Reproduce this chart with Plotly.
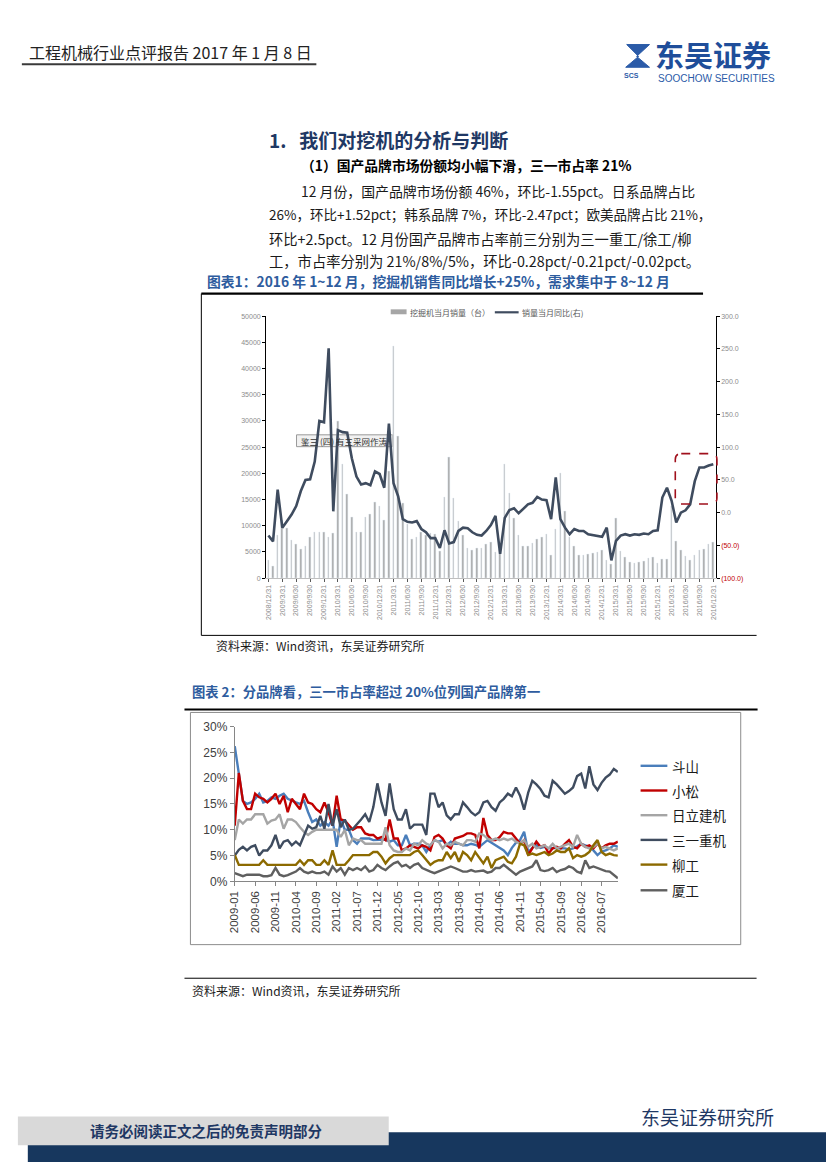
import plotly.graph_objects as go

W, H = 827, 1169
def X(p): return p / W
def Y(p): return 1 - p / H

# ---------------- Chart 1 data ----------------
tick_idx1 = list(range(0, 97, 3))
tick_text1 = ["2008/12/31", "2009/3/31", "2009/6/30", "2009/9/30", "2009/12/31",
              "2010/3/31", "2010/6/30", "2010/9/30", "2010/12/31",
              "2011/3/31", "2011/6/30", "2011/9/30", "2011/12/31",
              "2012/3/31", "2012/6/30", "2012/9/30", "2012/12/31",
              "2013/3/31", "2013/6/30", "2013/9/30", "2013/12/31",
              "2014/3/31", "2014/6/30", "2014/9/30", "2014/12/31",
              "2015/3/31", "2015/6/30", "2015/9/30", "2015/12/31",
              "2016/3/31", "2016/6/30", "2016/9/30", "2016/12/31"]
sales = [3500, 2200, 8200, 11000, 9600, 7300, 6500, 5600, 6100, 7800, 8700, 8800, 8800,
         7800, 8600, 30000, 21800, 16100, 11600, 8800, 8800, 11600, 12200, 14400, 13800,
         11000, 20400, 44300, 27000, 14200, 10200, 7500, 7800, 8700, 8200, 8600, 8400,
         5200, 15500, 23100, 15300, 10800, 8100, 5700, 5300, 5700, 5700, 6400, 6900,
         4900, 5600, 21800, 16200, 11500, 8100, 6100, 6100, 6700, 7400, 7800, 8400,
         4400, 9300, 20000, 12700, 7800, 6100, 4400, 4300, 4500, 4800, 5000, 5400,
         3500, 2600, 11400, 5200, 4000, 3100, 2900, 3000, 3300, 3700, 3900, 2800,
         3600, 3600, 13800, 7000, 5300, 4200, 3500, 4300, 5300, 5600, 6400, 6900]
yoy = [-35, -44, 35, -23, -13, -3, 10, 33, 50, 51, 78, 140, 138,
       251, 2, 126, 123, 122, 83, 55, 43, 45, 42, 63, 59,
       38, 136, 45, 25, -10, -14, -15, -13, -25, -30, -39, -39,
       -54, -27, -47, -45, -28, -23, -24, -30, -34, -35, -28, -19,
       -5, -63, -8, 4, 6.5, -1, 6.5, 12.6, 15, 24, 20, 19,
       -10, 54, -10, -23, -33, -25, -28, -28, -33, -34, -35, -37,
       -23, -73, -43, -35, -33, -35, -33, -34, -32, -33, -28, -27,
       23, 38, 18, -15, 0, 3.5, 12.6, 48, 69, 69, 72, 74]
left_vals = [0, 5000, 10000, 15000, 20000, 25000, 30000, 35000, 40000, 45000, 50000]
left_text = ["0", "5000", "10000", "15000", "20000", "25000", "30000", "35000", "40000", "45000", "50000"]
right_vals = [-100, -50, 0, 50, 100, 150, 200, 250, 300]
right_text = ["<span style='color:#C00000'>(100.0)</span>", "<span style='color:#C00000'>(50.0)</span>",
              "0.0", "50.0", "100.0", "150.0", "200.0", "250.0", "300.0"]

# ---------------- Chart 2 data ----------------
months2 = [f"{y}-{m:02d}" for y in range(2009, 2017) for m in range(1, 13)][:95]
tick_text2 = ["2009-01", "2009-06", "2009-11", "2010-04", "2010-09", "2011-02", "2011-07",
              "2011-12", "2012-05", "2012-10", "2013-03", "2013-08", "2014-01", "2014-06",
              "2014-11", "2015-04", "2015-09", "2016-02", "2016-07"]
doosan = [26.2, 21, 15.6, 15, 15.3, 16, 17, 15.3, 15.6, 16.3,
          16, 16.6, 17, 16, 15.6, 15.3, 15, 15.6, 13.4, 11.5,
          12, 10.8, 11.5, 10.8, 12, 6.7, 12, 10, 10, 8,
          7.3, 8.3, 8.3, 8.3, 8, 8, 8.1, 8.1, 7.7, 8,
          7, 7, 9, 7, 7.3, 7.3, 7, 5.7, 7, 8,
          7.7, 8, 7, 7.7, 7.3, 7.3, 7, 7, 7.3, 7.1,
          6.7, 7.3, 8, 7.5, 7, 6.5, 6, 5.1, 6.5, 7.5,
          8, 9.6, 5.7, 6.5, 7, 6.5, 6.7, 6.4, 6.5, 6.4,
          6.4, 6.4, 6.2, 6.4, 6.8, 7.3, 7, 6.7, 6, 5.1,
          5.8, 6, 6.4, 7, 6.7]
komatsu = [10.8, 21, 15.6, 14, 14, 17, 16.3, 16, 15.3, 16,
           17, 15, 16.6, 13.4, 16, 15, 14, 17, 15.3, 15,
           14, 13.4, 15.3, 13.4, 10.8, 16.6, 12, 11.8, 10.8, 10,
           10.5, 10.5, 9.3, 9, 9, 8.3, 8.6, 8, 12, 8.3,
           8.3, 6, 6.4, 7, 6.7, 6.4, 7, 6.7, 6, 8.6,
           9, 8.3, 7, 6.4, 8.3, 8.6, 8.8, 9.3, 9.3, 9,
           6.4, 12.3, 9, 8, 8, 8.6, 9.6, 9.3, 9.3, 8.3,
           7.3, 8, 5.1, 6.4, 7.7, 6.7, 7, 5.4, 6.4, 6.7,
           6.4, 7.3, 8, 6.7, 6.4, 7.3, 6.7, 7, 6.4, 7.3,
           6.4, 7, 7.3, 7.3, 7.7]
hitachi = [8, 12, 11.2, 12, 12, 13, 13, 13, 11.2, 11.8,
           12, 13, 10.2, 12, 12, 11.5, 10.5, 9.6, 9, 9.6,
           10, 10, 10, 10, 10, 10, 8.6, 10, 7, 8.3,
           8, 8, 7.3, 7.3, 7.3, 7.3, 7.3, 10.5, 7, 6,
           5.7, 5.7, 6.4, 6, 7.3, 7, 8, 7.3, 7, 8,
           7.7, 6.4, 7.3, 7, 7.7, 7.3, 7, 8, 8, 7.7,
           9.3, 9, 8.3, 8, 8.3, 8, 8.3, 8, 8.3, 7.7,
           7.3, 8, 6.7, 7.3, 6.4, 6.7, 7, 6.4, 7.3, 6.4,
           6.7, 7, 7.3, 6.7, 9, 7.3, 6.7, 6.4, 6.7, 7.3,
           6.4, 6.7, 6.4, 6, 6.4]
sany = [5, 6.1, 6.7, 6, 6.7, 7, 5, 6, 6, 7,
        9, 6.4, 7.7, 8, 7, 7.7, 7, 9, 10.8, 10.2,
        10.5, 12.7, 10.2, 15, 10.8, 14, 10.5, 12, 10, 10.2,
        11, 12, 13, 11.5, 14.4, 19, 15.3, 12.7, 19, 14,
        12, 12, 14, 10.2, 11, 11, 11, 9, 17, 17,
        14.4, 15.3, 12.8, 12, 13, 13, 15.3, 14.4, 13.4, 12.8,
        13.4, 15.3, 15.6, 14.4, 13.7, 15.3, 16, 17, 16.5, 18.2,
        16.6, 13.9, 17.2, 19.5, 18.8, 17.9, 16.6, 16.3, 19.5, 18.8,
        18, 17, 17.5, 18.2, 20.4, 20.9, 18, 22.3, 18.8, 17.7,
        19.1, 20.1, 20.7, 21.8, 21.2]
liugong = [5.1, 3.2, 3.2, 3.2, 3.2, 3.2, 3.2, 4.1, 3.2, 3.2,
           3.2, 3.2, 3.2, 3.2, 3.2, 3.2, 4.1, 3.2, 4.1, 4.1,
           3.2, 3.2, 4.1, 3.2, 6.0, 3.2, 3.2, 3.2, 4.1, 5.1,
           5.1, 5.1, 5.1, 5.1, 5.7, 5.7, 4.8, 3.5, 4.5, 5.1,
           5.1, 5.1, 5.1, 5.1, 5.7, 6.0, 5.1, 4.1, 3.2, 3.8,
           4.1, 4.1, 5.7, 4.5, 5.7, 3.8, 5.7, 5.1, 4.1, 5.7,
           4.5, 3.5, 4.8, 2.6, 4.1, 4.5, 4.8, 3.8, 3.5, 4.8,
           7.3, 7, 5.1, 5.4, 5.1, 5.4, 5.7, 5.1, 5.4, 6,
           5.7, 5.7, 6.4, 4.5, 5.1, 4.8, 5.1, 5.7, 7, 8,
           5.7, 5.1, 5.4, 5.1, 5.0]
xiagong = [1.6, 1.3, 1.0, 1.3, 1.3, 1.2, 1.3, 1.0, 1.0, 1.2,
           2.6, 1.3, 1.0, 1.2, 1.6, 1.9, 2.6, 1.9, 1.6, 1.9,
           1.6, 1.6, 1.9, 1.3, 2.9, 1.9, 2.6, 1.3, 2.6, 2.2,
           2.6, 2.2, 2.9, 1.9, 2.2, 3.2, 2.6, 2.2, 2.9, 3.5,
           3.8, 2.9, 3.2, 2.6, 3.2, 3.5, 2.6, 2.2, 1.9, 1.6,
           1.9, 2.2, 2.6, 2.9, 2.6, 2.2, 1.9, 1.9, 2.2, 1.9,
           2.0, 2.1, 1.7, 1.9, 2.6, 2.6, 3.2, 2.6, 1.9, 1.3,
           1.9, 2.2, 2.6, 2.9, 4.1, 2.2, 2.0, 2.2, 2.6, 1.8,
           2.2, 2.4, 2.9, 2.6, 1.9, 1.6, 4.1, 2.6, 2.9, 2.6,
           2.2, 2.0, 1.9, 1.3, 0.6]
brand_names = ["斗山", "小松", "日立建机", "三一重机", "柳工", "厦工"]
brand_series = [doosan, komatsu, hitachi, sany, liugong, xiagong]
brand_colors = ["#4A7EBB", "#C00000", "#A5A5A5", "#3F4C5F", "#8C6A00", "#5F5F5F"]

CJK = "Noto Sans CJK SC"
LAT = "Liberation Sans"
NAVY = "#1F3864"
FIGBLUE = "#2E5C9E"

fig = go.Figure()

# Chart 1 traces
fig.add_trace(go.Bar(x=list(range(97)), y=sales, marker_color="#A6A6A6", width=0.34,
                     xaxis="x", yaxis="y", showlegend=False, hoverinfo="skip"))
fig.add_trace(go.Scatter(x=list(range(97)), y=yoy, mode="lines", line=dict(color="#3F4C5F", width=2.6),
                         xaxis="x", yaxis="y2", showlegend=False, hoverinfo="skip"))

# Chart 2 traces
for name, ser, col in zip(brand_names, brand_series, brand_colors):
    fig.add_trace(go.Scatter(x=months2, y=[v / 100 for v in ser], mode="lines", name=name,
                             line=dict(color=col, width=2.4), xaxis="x2", yaxis="y3",
                             showlegend=False, hoverinfo="skip"))

c1x0, c1x1, c1y0, c1y1 = 262.3, 715.7, 313, 578
c2x0, c2x1, c2y0, c2y1 = 230.7, 617.1, 728.3, 885

axis_small = dict(family=LAT, size=7, color="#8C8C8C")
fig.update_layout(
    width=W, height=H, margin=dict(l=0, r=0, t=0, b=0),
    paper_bgcolor="white", plot_bgcolor="rgba(0,0,0,0)",
    bargap=0,
    xaxis=dict(domain=[X(c1x0), X(c1x1)], range=[-0.5, 96.5], tickvals=tick_idx1, ticktext=tick_text1,
               tickangle=-90, tickfont=axis_small, showgrid=False, zeroline=False,
               showline=True, linecolor="#BFBFBF", ticks="outside", ticklen=3, tickcolor="#595959",
               anchor="y"),
    yaxis=dict(domain=[Y(c1y1), Y(c1y0)], range=[0, 50000], tickvals=left_vals, ticktext=left_text,
               tickfont=axis_small,
               showgrid=False, zeroline=False, showline=True, linecolor="#000000", linewidth=1,
               ticks="outside", ticklen=3, tickcolor="#000000", anchor="x"),
    yaxis2=dict(domain=[Y(c1y1), Y(c1y0)], range=[-100, 300], tickvals=right_vals, ticktext=right_text,
                overlaying="y", side="right", anchor="x", tickfont=axis_small, showgrid=False,
                zeroline=False, showline=True, linecolor="#000000", linewidth=1.2,
                ticks="outside", ticklen=3, tickcolor="#000000"),
    xaxis2=dict(domain=[X(c2x0), X(c2x1)], type="category", categoryarray=months2,
                range=[0, 94], tickvals=tick_text2, ticktext=tick_text2, tickangle=-90,
                tickfont=dict(family=LAT, size=11.5, color="#404040"), showgrid=False,
                zeroline=False, showline=True, linecolor="#868686", ticks="outside", ticklen=4,
                tickcolor="#868686", anchor="y3"),
    yaxis3=dict(domain=[Y(c2y1), Y(c2y0)], range=[0, 0.30], dtick=0.05, tickformat=".0%",
                tickfont=dict(family=LAT, size=12, color="#404040"), showgrid=False, zeroline=False,
                showline=True, linecolor="#868686", ticks="outside", ticklen=4, tickcolor="#868686",
                anchor="x2"),
)

shapes = []
ann = []

def text(x, y, s, size, color="#000000", family=CJK, anchor="left", bold=False):
    if bold:
        s = f"<b>{s}</b>"
    ann.append(dict(x=X(x), y=Y(y), xref="paper", yref="paper", text=s, showarrow=False,
                    xanchor=anchor, yanchor="middle", font=dict(family=family, size=size, color=color)))

def hline(x0, x1, y, color, width):
    shapes.append(dict(type="line", xref="paper", yref="paper", x0=X(x0), x1=X(x1), y0=Y(y), y1=Y(y),
                       line=dict(color=color, width=width)))

def vline(x, y0, y1, color, width):
    shapes.append(dict(type="line", xref="paper", yref="paper", x0=X(x), x1=X(x), y0=Y(y0), y1=Y(y1),
                       line=dict(color=color, width=width)))

def rect(x0, y0, x1, y1, fill, line_color=None, lw=0):
    shapes.append(dict(type="rect", xref="paper", yref="paper", x0=X(x0), x1=X(x1), y0=Y(y1), y1=Y(y0),
                       fillcolor=fill, line=dict(color=line_color or fill, width=lw), layer="below"))

# Header
text(21, 46, "工程机械行业点评报告 2017 年 1 月 8 日", 16, "#222222")
hline(16, 313, 58, "#3A3A3A", 2)
# logo
shapes.append(dict(type="path", xref="paper", yref="paper",
                   path=f"M {X(626)},{Y(38)} L {X(649)},{Y(38)} L {X(636)},{Y(50)} L {X(649)},{Y(61)} "
                        f"L {X(625)},{Y(61)} L {X(638)},{Y(50)} Z",
                   fillcolor="#2B5BA8", line=dict(color="#2B5BA8", width=1)))
text(631, 69, "<b>SCS</b>", 7, "#2B5BA8", LAT, "center")
text(653, 48, "东吴证券", 29, "#1F4E9A", CJK, "left", bold=True)
text(656, 72, "SOOCHOW SECURITIES", 10, "#2B5BA8", LAT)

# Section text
text(263, 134, "1.   我们对挖机的分析与判断", 19, NAVY, bold=True)
text(296, 160, "（1）国产品牌市场份额均小幅下滑，三一市占率 21%", 13.8, "#000000", bold=True)
body = [(296, 186, 13.9, "12 月份，国产品牌市场份额 46%，环比-1.55pct。日系品牌占比"),
        (263, 210, 13.5, "26%，环比+1.52pct；韩系品牌 7%，环比-2.47pct；欧美品牌占比 21%，"),
        (263, 234, 14.3, "环比+2.5pct。12 月份国产品牌市占率前三分别为三一重工/徐工/柳"),
        (263, 257, 14.3, "工，市占率分别为 21%/8%/5%，环比-0.28pct/-0.21pct/-0.02pct。")]
for bx, by, bsz, bs in body:
    text(bx, by, bs, bsz, "#1A1A1A")
text(201, 277, "图表1：2016 年 1~12 月，挖掘机销售同比增长+25%，需求集中于 8~12 月", 13.8, FIGBLUE, bold=True)
hline(197, 703, 290, "#000000", 2.2)
vline(197, 290, 636, "#000000", 1)
hline(197, 757, 636, "#000000", 1)

# Chart 1 legend (manual)
rect(388, 306, 404, 311, "#A6A6A6")
text(405, 309, "挖掘机当月销量（台）", 8, "#595959")
hline(493, 517, 309, "#3F4C5F", 2.2)
text(518, 309, "销量当月同比(右)", 8, "#595959")

# Overlay label box in chart 1
rect(293, 433, 390, 445, "rgba(240,240,240,0.9)", "#9A9A9A", 1)
text(341, 439, "鉴三 (四) 有三采网作涛", 8.5, "#333333", anchor="center")

# Red dashed rounded box
rx0, ry0, rx1, ry1, r = 675, 452, 717, 503, 6
path = (f"M {X(rx0+r)},{Y(ry0)} L {X(rx1-r)},{Y(ry0)} Q {X(rx1)},{Y(ry0)} {X(rx1)},{Y(ry0+r)} "
        f"L {X(rx1)},{Y(ry1-r)} Q {X(rx1)},{Y(ry1)} {X(rx1-r)},{Y(ry1)} "
        f"L {X(rx0+r)},{Y(ry1)} Q {X(rx0)},{Y(ry1)} {X(rx0)},{Y(ry1-r)} "
        f"L {X(rx0)},{Y(ry0+r)} Q {X(rx0)},{Y(ry0)} {X(rx0+r)},{Y(ry0)} Z")
shapes.append(dict(type="path", xref="paper", yref="paper", path=path,
                   line=dict(color="#A0101C", width=1.6, dash="dash")))

text(210, 646, "资料来源：Wind资讯，东吴证券研究所", 12, "#1A1A1A")

# Figure 2
text(186, 693, "图表 2：分品牌看，三一市占率超过 20%位列国产品牌第一", 13.3, FIGBLUE, bold=True)
hline(180, 758, 711, "#000000", 2.2)
rect(186, 714, 741, 949, "rgba(0,0,0,0)", "#8C8C8C", 1)
legend_y = [768, 793, 818, 843, 868, 894]
for name, col, ly in zip(brand_names, brand_colors, legend_y):
    hline(640, 667, ly, col, 2.4)
    text(670, ly, name, 13.5, "#1A1A1A")
hline(180, 757, 983, "#000000", 1)
text(186, 995, "资料来源：Wind资讯，东吴证券研究所", 12, "#1A1A1A")

# Footer
rect(22, 1139, 827, 1169, "#17375E")
rect(12, 1123, 386, 1152, "#D9D9D9")
text(202, 1137, "请务必阅读正文之后的免责声明部分", 14.5, NAVY, anchor="center", bold=True)
text(777, 1123, "东吴证券研究所", 19, NAVY, anchor="right")

fig.update_layout(shapes=shapes, annotations=ann)
fig.write_html("out.html", config={"displayModeBar": False},
               post_script="document.body.style.margin='0';document.body.style.overflow='hidden';")
